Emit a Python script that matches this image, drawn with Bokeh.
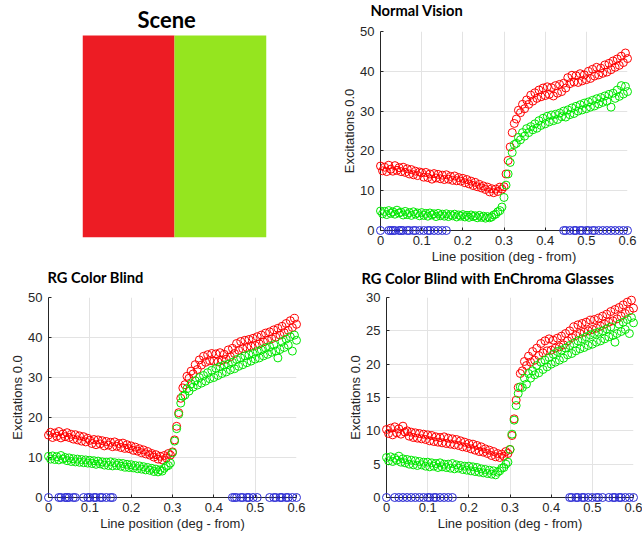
from bokeh.plotting import figure
from bokeh.layouts import column, row
from bokeh.models import Range1d, FixedTicker
from bokeh.core.properties import value
from bokeh.embed import file_html
from bokeh.resources import INLINE

# ---------------------------------------------------------------- data
SCENE_PATCHES = ["red", "green"]
SCENE_COLORS = ["#ED1C24", "#95E51F"]

# sample positions along the line (deg)
POS = [
    0.000, 0.005, 0.010, 0.015, 0.020, 0.025, 0.030, 0.035, 0.040, 0.045,
    0.050, 0.055, 0.060, 0.065, 0.070, 0.075, 0.080, 0.085, 0.090, 0.095,
    0.100, 0.105, 0.110, 0.115, 0.120, 0.125, 0.130, 0.135, 0.140, 0.145,
    0.150, 0.155, 0.160, 0.165, 0.170, 0.175, 0.180, 0.185, 0.190, 0.195,
    0.200, 0.205, 0.210, 0.215, 0.220, 0.225, 0.230, 0.235, 0.240, 0.245,
    0.250, 0.255, 0.260, 0.265, 0.270, 0.275, 0.280, 0.285, 0.290, 0.295,
    0.300, 0.305, 0.310, 0.315, 0.320, 0.325, 0.330, 0.335, 0.340, 0.345,
    0.350, 0.355, 0.360, 0.365, 0.370, 0.375, 0.380, 0.385, 0.390, 0.395,
    0.400, 0.405, 0.410, 0.415, 0.420, 0.425, 0.430, 0.435, 0.440, 0.445,
    0.450, 0.455, 0.460, 0.465, 0.470, 0.475, 0.480, 0.485, 0.490, 0.495,
    0.500, 0.505, 0.510, 0.515, 0.520, 0.525, 0.530, 0.535, 0.540, 0.545,
    0.550, 0.555, 0.560, 0.565, 0.570, 0.575, 0.580, 0.585, 0.590, 0.595,
    0.600,
]

# Normal vision: L (red) and M (green) cone excitations
NV_RED = [
    16.2, 15.0, 15.9, 14.8, 16.4, 15.4, 14.9, 16.3, 15.1, 15.8,
    14.8, 15.9, 14.6, 15.5, 14.2, 15.3, 14.0, 14.9, 13.8, 14.7,
    14.5, 13.4, 14.6, 13.3, 14.2, 12.9, 14.3, 13.2, 14.1, 13.0,
    13.9, 12.8, 14.0, 12.9, 13.6, 12.6, 13.7, 12.5, 13.3, 12.4,
    13.1, 12.0, 12.8, 11.7, 12.4, 11.3, 12.1, 11.0, 11.6, 10.7,
    11.2, 10.3, 10.9, 9.7, 10.5, 9.5, 10.4, 9.8, 10.9, 10.4,
    11.0, 14.2, 17.6, 21.0, 24.6, 26.9, 28.0, 30.2, 29.6, 31.7,
    30.6, 32.8, 31.7, 34.0, 32.5, 34.6, 33.2, 35.3, 33.6, 35.8,
    33.9, 36.1, 34.2, 35.9, 33.8, 36.4, 34.5, 36.7, 34.9, 37.0,
    35.8, 38.4, 36.9, 39.0, 37.3, 38.9, 37.2, 39.4, 37.6, 39.1,
    37.9, 40.0, 38.2, 40.5, 38.8, 41.0, 39.1, 40.8, 39.5, 41.6,
    39.8, 42.0, 40.4, 42.6, 41.0, 43.1, 41.5, 43.8, 42.2, 44.6,
    43.2,
]
NV_GREEN = [
    4.9, 4.2, 4.8, 4.0, 5.0, 4.3, 4.7, 4.1, 5.1, 4.4,
    4.6, 3.9, 4.8, 4.0, 4.5, 3.8, 4.7, 4.1, 4.4, 3.7,
    4.5, 3.8, 4.3, 3.6, 4.4, 3.9, 4.2, 3.5, 4.3, 3.7,
    4.1, 3.6, 4.2, 3.5, 4.0, 3.7, 4.1, 3.4, 3.9, 3.6,
    4.0, 3.4, 3.8, 3.3, 3.9, 3.5, 3.7, 3.2, 3.8, 3.3,
    3.6, 3.1, 3.5, 3.2, 3.4, 3.9, 4.1, 4.7, 5.0, 5.9,
    8.3, 11.4, 14.2, 17.1, 19.6, 21.6, 21.9, 23.4, 22.8, 24.6,
    23.7, 25.6, 24.6, 26.1, 25.3, 26.8, 25.7, 27.6, 26.4, 28.2,
    26.8, 28.7, 27.3, 29.0, 27.6, 29.2, 27.9, 29.5, 28.6, 30.0,
    28.5, 30.3, 29.1, 30.8, 29.4, 31.2, 30.0, 31.6, 30.3, 32.0,
    30.6, 32.3, 31.0, 32.7, 31.3, 33.1, 31.8, 33.4, 32.2, 33.8,
    32.5, 34.2, 31.0, 34.5, 33.2, 35.3, 33.7, 36.4, 34.3, 36.2,
    34.9,
]
NV_BLUE_POS = [
    0.0, 0.02, 0.025, 0.03, 0.035, 0.045, 0.05, 0.055, 0.065, 0.07,
    0.08, 0.085, 0.095, 0.105, 0.115, 0.12, 0.13, 0.14, 0.15, 0.16,
    0.445, 0.45, 0.46, 0.47, 0.475, 0.485, 0.49, 0.5, 0.505, 0.515,
    0.52, 0.53, 0.54, 0.55, 0.56, 0.57, 0.58, 0.59, 0.6,
]

# Red-green colour blind
RG_RED = [
    15.6, 16.3, 15.0, 16.1, 15.3, 16.5, 14.9, 15.9, 15.2, 16.2,
    15.0, 15.8, 14.6, 15.7, 14.4, 15.4, 14.1, 15.2, 13.9, 14.8,
    14.3, 13.5, 14.5, 13.2, 14.4, 13.4, 14.2, 12.9, 14.0, 13.1,
    13.8, 12.7, 13.9, 12.8, 13.5, 12.5, 13.6, 12.3, 13.2, 12.2,
    12.9, 11.8, 12.6, 11.6, 12.2, 11.2, 11.9, 10.9, 11.5, 10.6,
    11.0, 10.1, 10.7, 9.6, 10.3, 9.4, 10.5, 9.9, 11.0, 10.6,
    11.4, 14.4, 17.8, 21.2, 24.8, 27.4, 28.2, 30.3, 29.8, 31.6,
    30.9, 33.2, 32.0, 34.4, 33.1, 35.3, 33.8, 35.7, 34.2, 36.0,
    34.1, 35.9, 33.9, 36.2, 34.3, 35.8, 34.6, 36.9, 35.2, 37.3,
    36.0, 38.5, 36.8, 39.0, 37.2, 39.3, 37.5, 39.5, 37.8, 39.8,
    38.0, 40.2, 38.4, 40.6, 38.9, 41.1, 39.3, 41.4, 39.7, 41.9,
    40.1, 42.3, 40.6, 42.8, 41.2, 43.5, 41.8, 44.2, 42.5, 44.8,
    43.3,
]
RG_GREEN = [
    10.3, 9.6, 10.4, 9.5, 10.2, 9.4, 10.5, 9.6, 10.0, 9.2,
    9.9, 9.0, 9.7, 8.9, 9.6, 8.8, 9.5, 8.7, 9.4, 8.6,
    9.3, 8.5, 9.2, 8.3, 9.1, 8.4, 8.9, 8.1, 8.8, 8.0,
    8.9, 7.9, 8.7, 8.0, 8.6, 7.8, 8.5, 7.6, 8.3, 7.5,
    8.2, 7.4, 8.0, 7.2, 7.9, 7.1, 7.7, 6.9, 7.5, 6.8,
    7.3, 6.5, 7.1, 6.4, 6.9, 6.6, 7.3, 7.8, 8.0, 8.6,
    11.2, 14.1, 17.2, 20.8, 23.6, 25.3, 25.6, 27.2, 26.6, 28.4,
    27.6, 29.2, 28.1, 30.0, 28.6, 30.5, 29.1, 31.2, 29.7, 31.8,
    30.0, 32.3, 30.5, 32.7, 31.0, 33.1, 31.4, 33.3, 31.9, 33.8,
    32.2, 34.5, 32.8, 34.9, 33.2, 35.4, 33.7, 35.7, 34.1, 36.0,
    34.6, 36.5, 34.9, 36.9, 35.4, 37.4, 35.8, 37.7, 36.3, 38.2,
    36.6, 34.9, 37.0, 39.0, 37.5, 39.6, 38.1, 40.2, 36.6, 40.6,
    39.3,
]
RG_BLUE_POS = [
    0.0, 0.025, 0.03, 0.04, 0.045, 0.05, 0.06, 0.065, 0.085, 0.095,
    0.1, 0.11, 0.115, 0.125, 0.13, 0.14, 0.15, 0.155,
    0.445, 0.45, 0.455, 0.465, 0.47, 0.48, 0.485, 0.495, 0.505,
    0.535, 0.545, 0.55, 0.56, 0.565, 0.575, 0.58, 0.59, 0.6,
]

# Red-green colour blind wearing EnChroma glasses
EC_RED = [
    10.2, 9.6, 10.4, 9.4, 10.6, 9.7, 10.3, 9.5, 10.7, 9.8,
    10.0, 9.2, 9.8, 9.0, 9.7, 8.9, 9.6, 8.8, 9.5, 8.7,
    9.4, 8.5, 9.3, 8.4, 9.1, 8.3, 9.0, 8.2, 9.1, 8.1,
    8.9, 8.0, 8.8, 7.9, 8.7, 7.8, 8.5, 7.6, 8.3, 7.5,
    8.1, 7.3, 8.0, 7.1, 7.8, 6.9, 7.6, 6.8, 7.3, 6.6,
    7.1, 6.3, 6.9, 6.1, 6.6, 6.0, 6.5, 6.2, 6.9, 6.6,
    7.2, 9.3, 11.8, 14.6, 16.5, 18.6, 19.0, 20.4, 19.8, 21.2,
    20.3, 21.9, 20.6, 22.4, 21.3, 23.1, 21.7, 23.5, 22.0, 23.8,
    22.1, 23.6, 22.4, 23.9, 22.6, 24.2, 22.9, 24.6, 23.5, 25.0,
    24.0, 25.6, 24.3, 25.9, 24.6, 26.1, 24.8, 26.3, 25.0, 26.6,
    25.2, 26.7, 25.4, 26.9, 25.7, 27.2, 26.0, 27.5, 26.3, 27.9,
    26.5, 28.2, 26.8, 28.5, 27.2, 28.9, 27.6, 29.3, 28.0, 29.6,
    28.4,
]
EC_GREEN = [
    6.0, 5.5, 6.1, 5.4, 5.9, 5.6, 6.2, 5.3, 5.8, 5.2,
    5.7, 5.0, 5.6, 4.9, 5.5, 4.8, 5.4, 4.9, 5.3, 4.7,
    5.3, 4.6, 5.2, 4.7, 5.1, 4.5, 5.2, 4.6, 5.0, 4.5,
    5.0, 4.4, 5.1, 4.3, 4.9, 4.4, 4.8, 4.2, 4.7, 4.1,
    4.7, 4.0, 4.6, 3.9, 4.5, 3.8, 4.3, 3.7, 4.2, 3.6,
    4.1, 3.5, 4.0, 3.4, 3.8, 4.0, 4.4, 4.5, 5.0, 5.3,
    7.2, 9.5, 11.6, 13.8, 15.6, 16.6, 16.5, 17.9, 17.0, 18.6,
    17.9, 19.0, 18.4, 19.8, 18.7, 20.3, 19.2, 20.6, 19.6, 21.0,
    20.0, 21.5, 20.3, 21.9, 20.6, 22.1, 20.9, 22.4, 21.4, 22.8,
    21.6, 23.1, 22.0, 23.5, 22.3, 23.8, 22.5, 24.1, 22.8, 24.4,
    23.0, 24.6, 23.3, 24.8, 23.5, 25.0, 23.8, 25.3, 24.1, 25.6,
    24.3, 23.3, 24.6, 26.0, 24.9, 26.3, 25.2, 26.7, 24.6, 27.0,
    26.2,
]
EC_BLUE_POS = [
    0.0, 0.02, 0.03, 0.04, 0.05, 0.06, 0.07, 0.08, 0.09, 0.1,
    0.105, 0.115, 0.12, 0.13, 0.14, 0.15, 0.16,
    0.445, 0.45, 0.46, 0.465, 0.475, 0.48, 0.49, 0.5, 0.51,
    0.515, 0.525, 0.54, 0.55, 0.555, 0.565, 0.57, 0.58, 0.59, 0.6,
]

X_TICKS = [0.0, 0.1, 0.2, 0.3, 0.4, 0.5, 0.6]
X_TICK_LABELS = ["0", "0.1", "0.2", "0.3", "0.4", "0.5", "0.6"]

# ---------------------------------------------------------------- style
TITLE_FONT = "Lato"
AXIS_FONT = "Liberation Sans"
INK = "#262626"
GRID = "#e3e3e3"
L_COLOR = "#ff0000"
M_COLOR = "#00e800"
S_COLOR = "#2b2bd6"
MARK = 8


def heading(p, text, x, y, dx, dy, size):
    """Bold heading anchored at a frame corner, shifted by dx/dy pixels."""
    r = p.text(x=[x], y=[y], text=[text], x_offset=dx, y_offset=dy,
               text_font=value(TITLE_FONT), text_font_size=size,
               text_font_style="bold", text_color="#000000",
               text_align="left", text_baseline="alphabetic")
    r.level = "overlay"


def scene_panel():
    # the frame shares its top edge with the neighbouring chart; the
    # scene itself starts a few pixels lower
    p = figure(frame_width=184, frame_height=206, title=None,
               x_range=Range1d(0, 2), y_range=Range1d(0, 1.0198),
               output_backend="svg", toolbar_location=None,
               x_axis_location=None, y_axis_location=None,
               min_border_left=82, min_border_right=55,
               min_border_top=31, min_border_bottom=31)
    p.grid.visible = False
    p.outline_line_color = None
    p.quad(left=[0, 1], right=[1, 2], bottom=[0, 0], top=[1, 1],
           fill_color=SCENE_COLORS, line_color=None)
    heading(p, "Scene", 0, 1, 55, -16, "22px")
    return p


def response_panel(title, y_max, y_step, red, green, blue_pos,
                   frame, borders, title_dx, title_dy):
    fw, fh = frame
    left, right, top, bottom = borders
    p = figure(frame_width=fw, frame_height=fh, title=None,
               x_range=Range1d(0, 0.6), y_range=Range1d(0, y_max),
               output_backend="svg", toolbar_location=None,
               min_border_left=left, min_border_right=right,
               min_border_top=top, min_border_bottom=bottom)
    p.outline_line_color = None
    p.background_fill_color = "white"

    p.xaxis.ticker = FixedTicker(ticks=X_TICKS)
    p.xaxis.major_label_overrides = dict(zip(X_TICKS, X_TICK_LABELS))
    p.yaxis.ticker = FixedTicker(ticks=list(range(0, y_max + 1, y_step)))

    for ax in (p.xaxis, p.yaxis):
        ax.axis_line_color = INK
        ax.axis_line_width = 1
        ax.major_tick_line_color = INK
        ax.major_tick_in = 3
        ax.major_tick_out = 0
        ax.minor_tick_line_color = None
        ax.major_label_text_font = AXIS_FONT
        ax.major_label_text_font_size = "13px"
        ax.major_label_text_color = INK
        ax.axis_label_text_font = AXIS_FONT
        ax.axis_label_text_font_size = "13px"
        ax.axis_label_text_font_style = "normal"
        ax.axis_label_text_color = INK
    p.xaxis.axis_label = "Line position (deg - from)"
    p.yaxis.axis_label = "Excitations 0.0"
    p.xaxis.major_label_standoff = 5
    p.xaxis.axis_label_standoff = 1
    p.yaxis.major_label_standoff = 6
    p.yaxis.axis_label_standoff = 0

    p.grid.grid_line_color = GRID
    p.grid.grid_line_width = 1

    r1 = p.scatter(POS, red, marker="circle", size=MARK, fill_color=None,
                   line_color=L_COLOR, line_width=1)
    r2 = p.scatter(POS, green, marker="circle", size=MARK, fill_color=None,
                   line_color=M_COLOR, line_width=1)
    r3 = p.scatter(blue_pos, [0] * len(blue_pos), marker="circle", size=MARK,
                   fill_color=None, line_color=S_COLOR, line_width=1)
    for r in (r1, r2, r3):
        r.level = "overlay"

    heading(p, title, 0, y_max, title_dx, title_dy, "14.7px")
    return p


scene = scene_panel()
normal = response_panel("Normal Vision", 50, 10, NV_RED, NV_GREEN, NV_BLUE_POS,
                        (247, 199), (59, 15, 31, 38), -10, -22)
blind = response_panel("RG Color Blind", 50, 10, RG_RED, RG_GREEN, RG_BLUE_POS,
                       (248, 200), (48, 25, 29, 41), -1, -21)
glasses = response_panel("RG Color Blind with EnChroma Glasses", 30, 5,
                         EC_RED, EC_GREEN, EC_BLUE_POS,
                         (247, 200), (65, 9, 29, 41), -25, -20)

layout = column(row(scene, normal), row(blind, glasses))

with open("out.html", "w") as f:
    f.write(file_html(layout, INLINE))
